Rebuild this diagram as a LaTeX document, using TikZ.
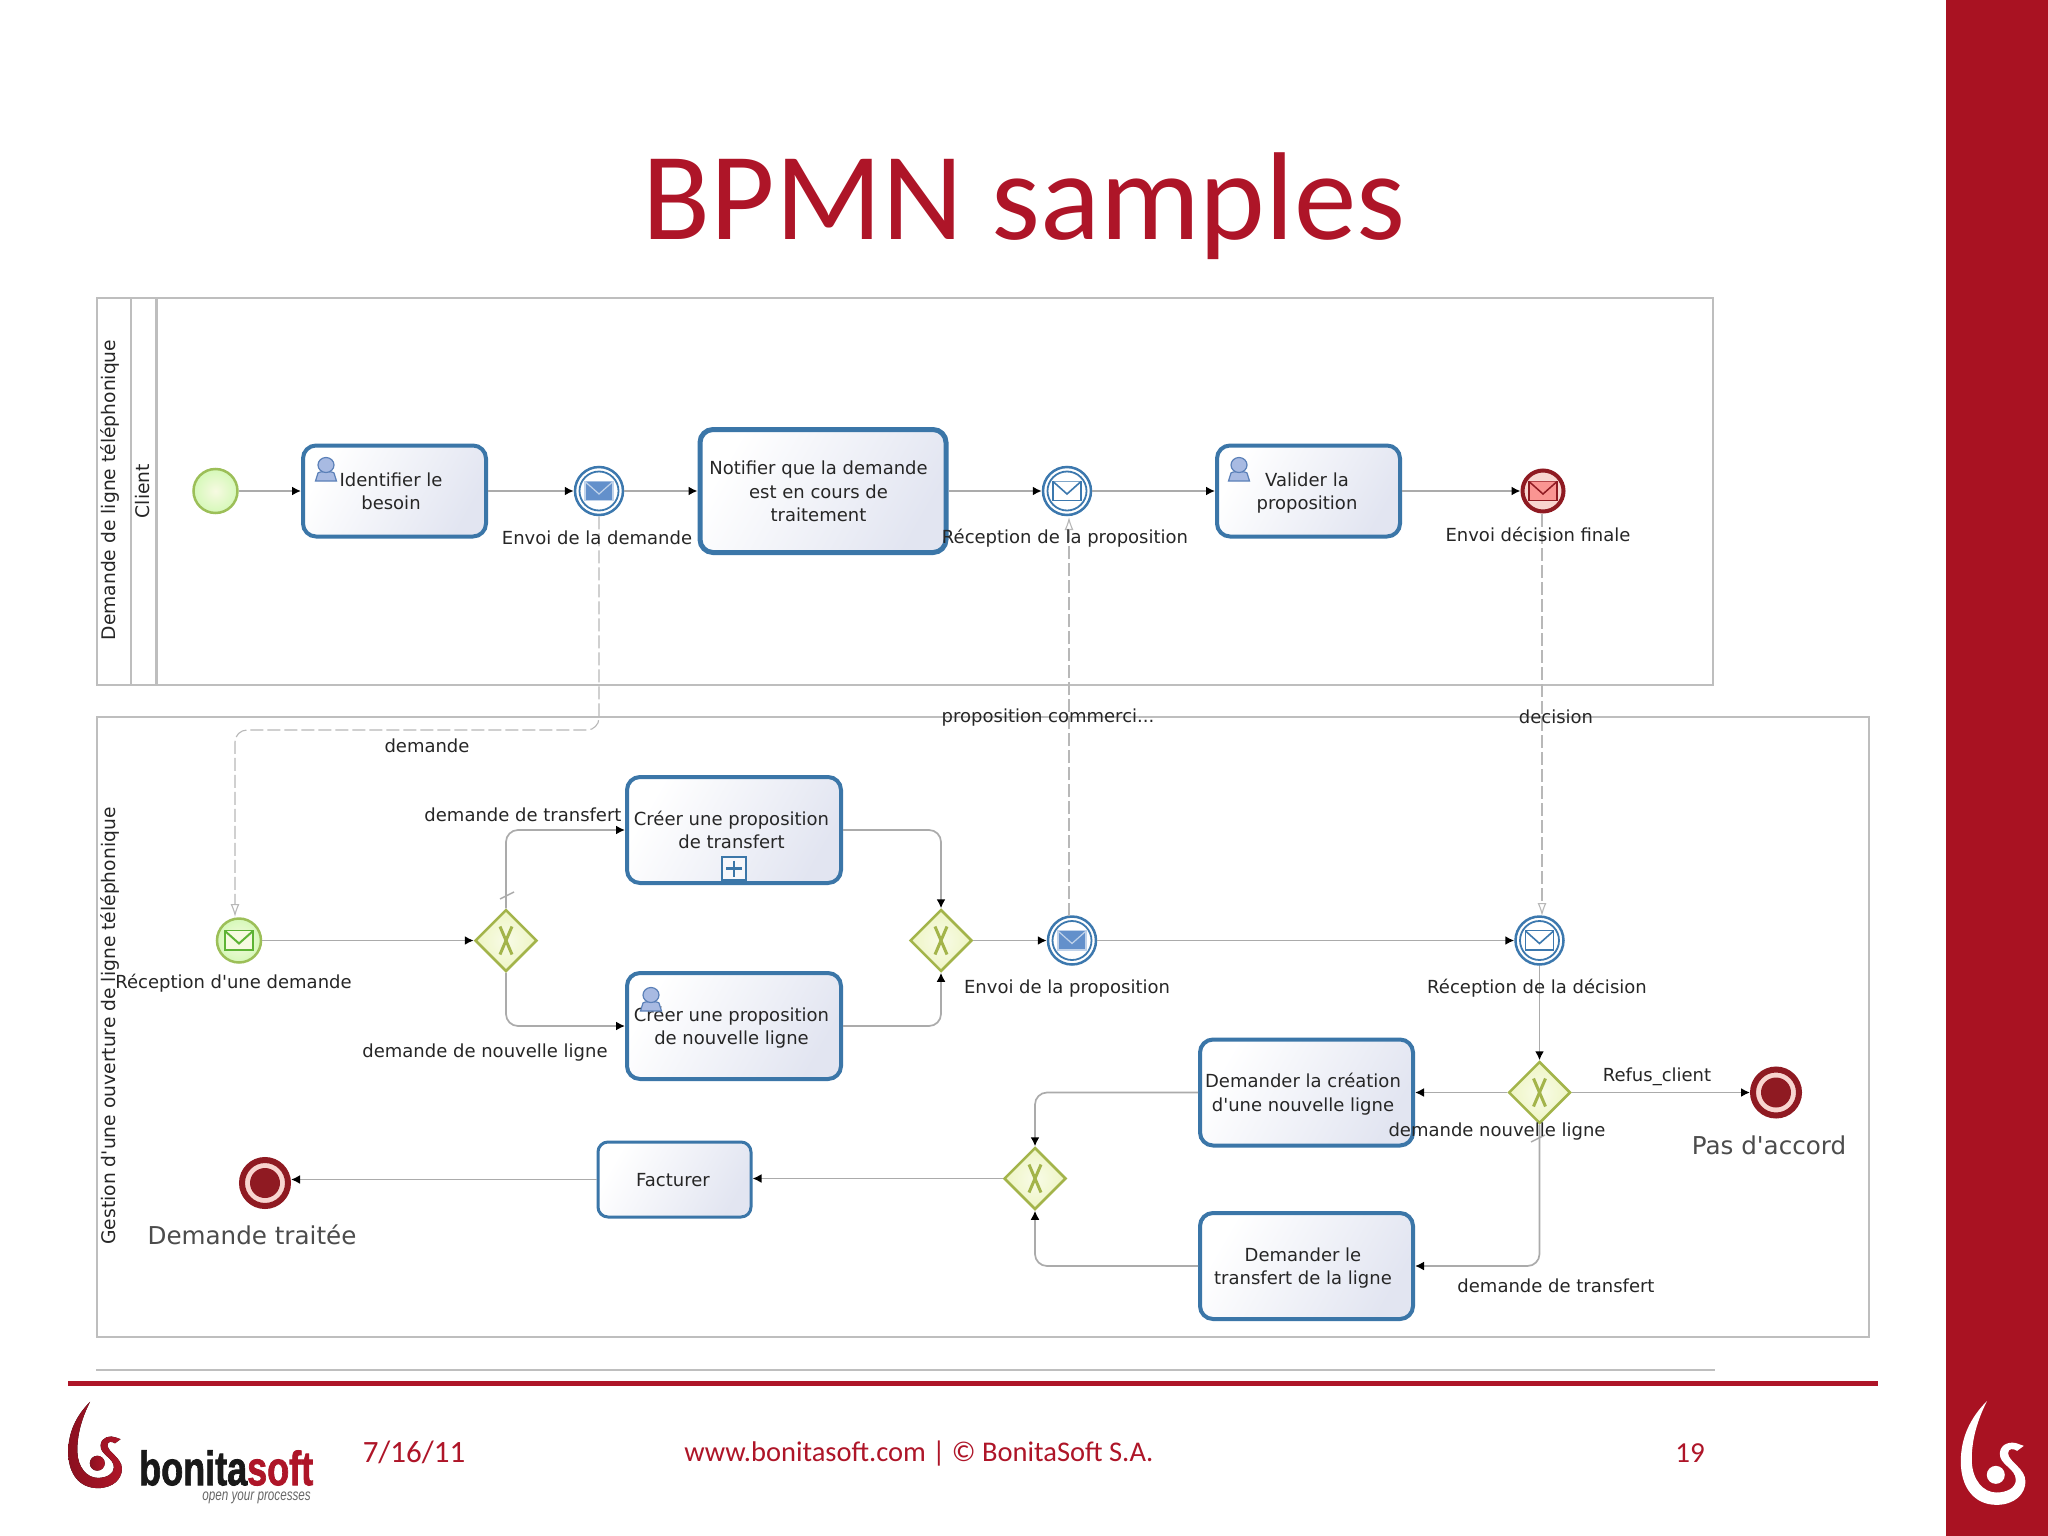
\documentclass[tikz,border=0pt]{standalone}
\usepackage{fontspec}
\setmainfont{DejaVu Sans}
\newfontfamily\slidefont{Carlito}
\newfontfamily\logofont{Liberation Sans}[BoldFeatures={FakeBold=1.8}]
\usetikzlibrary{arrows.meta,shapes.geometric}
\definecolor{slidered}{HTML}{A91222}
\definecolor{titlered}{HTML}{AE1528}
\definecolor{poolgrey}{HTML}{BEBEBE}
\definecolor{flowgrey}{HTML}{ABABAB}
\definecolor{msggrey}{HTML}{B8B8B8}
\definecolor{taskblue}{HTML}{3B76A8}
\definecolor{tasklav}{HTML}{E2E5F1}
\definecolor{gwolive}{HTML}{A3B44A}
\definecolor{gwfill}{HTML}{EEF5C4}
\definecolor{evgreen}{HTML}{9CBF58}
\definecolor{evblue}{HTML}{3C78AE}
\definecolor{envblue}{HTML}{6390CB}
\definecolor{endred}{HTML}{8F1A22}
\definecolor{endpink}{HTML}{F8D5D0}
\definecolor{userfill}{HTML}{A8BAE2}
\definecolor{userline}{HTML}{5B80B8}
% task text, pushed a little to the left and down as in the picture
\newcommand{\tasklines}[2][-7pt]{\hspace*{#1}\raisebox{0pt}[\dimexpr\height+5pt\relax][\depth]{\begin{tabular}{@{}c@{}}#2\end{tabular}}}
\tikzset{
  task/.style={draw=taskblue,line width=4pt,rounded corners=13pt,inner sep=0pt,
    left color=white,right color=tasklav,shading angle=60,
    font=\fontsize{18}{23.4}\selectfont,text=black!85},
  lbl/.style={inner sep=0pt,font=\fontsize{18}{23}\selectfont,text=black!85},
  biglbl/.style={inner sep=0pt,font=\fontsize{24.6}{28}\selectfont,text=black!70},
  poolname/.style={inner sep=0pt,rotate=90,font=\fontsize{18.7}{21}\selectfont,text=black!85},
  pool/.style={draw=poolgrey,line width=2pt},
  flow/.style={draw=flowgrey,line width=1.7pt,rounded corners=12pt,
    -{Latex[length=9pt,width=9pt,color=black]}},
  msg/.style={draw=msggrey,line width=1.1pt,rounded corners=12pt,dash pattern=on 13pt off 4pt,
    -{Latex[open,length=13pt,width=9pt,color=msggrey,fill=white]}},
  tick/.style={draw=flowgrey,line width=1.5pt},
  footer/.style={inner sep=0pt,text=titlered},
  gateway/.style={diamond,aspect=1,draw=gwolive,line width=2.5pt,inner sep=0pt,minimum size=62pt,
    inner color=white!60!gwfill,outer color=gwfill,
    path picture={
      \draw[gwolive,line width=3pt] ([shift={(-6,-14)}]path picture bounding box.center) -- ([shift={(6,14)}]path picture bounding box.center);
      \draw[gwolive,line width=3pt] ([shift={(6,-14)}]path picture bounding box.center) -- ([shift={(-6,14)}]path picture bounding box.center);
    }},
  start/.style={circle,draw=evgreen,line width=2.5pt,inner sep=0pt,minimum size=44pt,
    inner color=white!50!gwfill,outer color=gwfill!85!green!80!white},
  middle/.style={circle,draw=evblue,line width=2.5pt,inner sep=0pt,minimum size=48pt,fill=white,
    path picture={\draw[evblue,line width=1.8pt] (path picture bounding box.center) circle (19.5pt);}},
  sendend/.style={circle,draw=endred,line width=4pt,inner sep=0pt,minimum size=41pt,fill=endpink},
  termend/.style={circle,draw=endred,line width=6pt,inner sep=0pt,minimum size=46pt,fill=endpink,
    path picture={\fill[endred] (path picture bounding box.center) circle (15pt);}},
  envelope/.pic={
    \draw[pic actions] (-14,-9.5) rectangle (14,9.5);
    \draw[pic actions] (-14,-9.5) -- (0,3) -- (14,-9.5);
  },
  person/.pic={
    \draw[draw=userline,fill=userfill,line width=1.2pt] (-10.5,9) -- (-8,1) .. controls (-6,-1) and (6,-1) .. (8,1) -- (10.5,9) -- cycle;
    \draw[draw=userline,fill=userfill,line width=1.2pt] (0,-7) ellipse (8 and 7.5);
  },
  swirl/.pic={
    \fill[pic actions] (322,183) .. controls (270,235) and (243,295) .. (243,365)
      .. controls (243,445) and (285,495) .. (350,495)
      .. controls (405,495) and (437,462) .. (437,425)
      .. controls (437,385) and (385,365) .. (385,340)
      .. controls (385,325) and (400,325) .. (412,333)
      -- (432,318) -- (415,312)
      .. controls (395,303) and (362,310) .. (360,340)
      .. controls (358,375) and (408,385) .. (408,420)
      .. controls (408,445) and (380,458) .. (350,458)
      .. controls (310,458) and (278,420) .. (276,365)
      .. controls (274,300) and (295,235) .. (322,183) -- cycle;
    \fill[pic actions] (348,405) circle (27);
  },
}
\begin{document}
\begin{tikzpicture}[x=1pt,y=-1pt]
  \useasboundingbox (0,0) rectangle (2048,1536);
  \fill[white] (0,0) rectangle (2048,1536);
  % slide frame
  \fill[slidered] (1946,0) rectangle (2048,1536);
  \pic[fill=white,scale=0.3333,shift={(5640,4020)}] {swirl};
  \node[footer,font={\slidefont\fontsize{125}{135}\selectfont}] (title) at (1024,206) {BPMN samples};

  % pools
  \draw[pool] (97,298) rectangle (1713,685);
  \draw[pool] (131,298) -- (131,685);
  \draw[pool,line width=3pt] (156,298) -- (156,685);
  \draw[pool] (97,717) rectangle (1869,1337);

  % pool 1
  \node[start] (s1) at (215.5,491) {};
  \node[task,minimum width=183pt,minimum height=91pt] (t1) at (394.5,491) {\tasklines{Identifier le\\besoin}};
  \node[middle] (e1) at (599,491) {};
  \node[task,line width=5pt,minimum width=246pt,minimum height=123pt] (t2) at (823,491) {\tasklines[-9pt]{Notifier que la demande\\est en cours de\\traitement}};
  \node[middle] (e2) at (1067,491) {};
  \node[task,minimum width=183pt,minimum height=91pt] (t3) at (1308.5,491) {\tasklines[-3pt]{Valider la\\proposition}};
  \node[sendend] (e3) at (1543,491) {};

  % pool 2
  \node[start] (r1) at (239,940.5) {};
  \node[gateway] (g1) at (506,940.5) {};
  \node[task,minimum width=214pt,minimum height=106pt] (t4) at (734,830) {\tasklines[-5pt]{Créer une proposition\\de transfert}};
  \node[task,minimum width=214pt,minimum height=106pt] (t5) at (734,1026) {\tasklines[-5pt]{Créer une proposition\\de nouvelle ligne}};
  \node[gateway] (g2) at (941,940.5) {};
  \node[middle] (e4) at (1072,940.5) {};
  \node[middle] (e5) at (1539.5,940.5) {};
  \node[gateway] (g3) at (1539.5,1092.5) {};
  \node[termend] (e6) at (1776,1092.5) {};
  \node[task,minimum width=213pt,minimum height=106pt] (t6) at (1306.5,1092.5) {\tasklines{Demander la création\\d\textquotesingle une nouvelle ligne}};
  \node[task,minimum width=213pt,minimum height=106pt] (t7) at (1306.5,1266) {\tasklines{Demander le\\transfert de la ligne}};
  \node[gateway] (g4) at (1035,1178.5) {};
  \node[task,line width=3pt,rounded corners=10pt,minimum width=153pt,minimum height=75pt] (t8) at (674.5,1179.5) {\tasklines[-3pt]{Facturer}};
  \node[termend] (e7) at (265,1183) {};

  % event and task markers
  \pic[fill=envblue,draw=white!60!envblue,line width=1.2pt] at (e1) {envelope};
  \pic[fill=white,draw=evblue,line width=1.6pt] at (e2) {envelope};
  \pic[fill=endpink!70!red,draw=endred,line width=1.5pt] at (e3) {envelope};
  \pic[fill=white!50!gwfill,draw=evgreen!70!green!85!black,line width=2pt] at (r1) {envelope};
  \pic[fill=envblue,draw=white!60!envblue,line width=1.2pt] at (e4) {envelope};
  \pic[fill=white,draw=evblue,line width=1.6pt] at (e5) {envelope};
  \pic at (326,472) {person};
  \pic at (1239,472) {person};
  \pic at (651,1002) {person};
  \draw[taskblue,line width=2pt,fill=white!70!tasklav] (722,857) rectangle (746,880);
  \draw[taskblue,line width=2.5pt] (726,868.5) -- (742,868.5) (734,860.5) -- (734,876.5);

  % sequence flows
  \draw[flow] (s1) -- (t1);
  \draw[flow] (t1) -- (e1);
  \draw[flow] (e1) -- (t2);
  \draw[flow] (t2) -- (e2);
  \draw[flow] (e2) -- (t3);
  \draw[flow] (t3) -- (e3);
  \draw[flow] (r1) -- (g1.west);
  \draw[flow] (g1.north) |- (t4.west);
  \draw[flow] (g1.south) |- (t5.west);
  \draw[flow] (t4.east) -| (g2.north);
  \draw[flow] (t5.east) -| (g2.south);
  \draw[flow] (g2.east) -- (e4);
  \draw[flow] (e4) -- (e5);
  \draw[flow] (e5) -- (g3.north);
  \draw[flow] (g3.east) -- (e6);
  \draw[flow] (g3.west) -- (t6.east);
  \draw[flow] (g3.south) |- (t7.east);
  \draw[flow] (t6.west) -| (g4.north);
  \draw[flow] (t7.west) -| (g4.south);
  \draw[flow] (g4.west) -- (g4.west -| t8.east);
  \draw[flow] (t8.west) -- (t8.west -| e7.east);
  % default marks
  \draw[tick] (500,899) -- (514,892);
  \draw[tick] (1531,1142) -- (1545,1135);

  % message flows
  \coordinate (bend1) at (235,730);
  \coordinate (in1) at (235,917);
  \coordinate (in2) at (1069,517);
  \coordinate (out2) at (1069,916);
  \coordinate (out3) at (1542,514);
  \coordinate (in3) at (1542,916);
  \draw[msg] (e1.south) |- (bend1) -- (in1);
  \draw[msg] (out2) -- (in2);
  \draw[msg] (out3) -- (in3);

  % labels
  \node[poolname] (p1) at (110,490) {Demande de ligne téléphonique};
  \node[poolname] (p2) at (143,491) {Client};
  \node[poolname] (p3) at (110,1026) {Gestion d\textquotesingle une ouverture de ligne téléphonique};
  \node[lbl] (l1) at (597,538) {Envoi de la demande};
  \node[lbl] (l2) at (1065,538) {Réception de la proposition};
  \node[lbl] (l3) at (1538,534) {Envoi décision finale};
  \node[lbl] (l4) at (427,746) {demande};
  \node[lbl] (l5) at (523,815) {demande de transfert};
  \node[lbl] (l6) at (485,1053) {demande de nouvelle ligne};
  \node[lbl] (l7) at (233.5,983) {Réception d\textquotesingle une demande};
  \node[lbl] (l8) at (1048,718) {proposition commerci...};
  \node[lbl] (l9) at (1556,717) {decision};
  \node[lbl] (l10) at (1067,989) {Envoi de la proposition};
  \node[lbl] (l11) at (1537,988) {Réception de la décision};
  \node[lbl] (l12) at (1657,1077) {Refus\_client};
  \node[lbl] (l13) at (1497,1132) {demande nouvelle ligne};
  \node[lbl] (l14) at (1556,1286) {demande de transfert};
  \node[biglbl] (l15) at (1769,1145) {Pas d\textquotesingle accord};
  \node[biglbl] (l16) at (252,1235) {Demande traitée};

  % footer
  \draw[poolgrey,line width=1.5pt] (96,1370) -- (1715,1370);
  \draw[titlered,line width=5pt] (68,1383) -- (1878,1383);
  \pic[left color=titlered!80!black,right color=titlered,scale=0.2767,shift={(3.6,4883)}] {swirl};
  \node[anchor=west,inner sep=0pt,font={\logofont\bfseries\fontsize{48}{50}\selectfont}] (logo) at (139,1468)
    {\scalebox{.75}[1]{\textcolor{black!90}{bonita}\textcolor{titlered}{soft}}};
  \node[anchor=east,inner sep=0pt,text=black!60,font={\logofont\itshape\fontsize{16}{18}\selectfont}] (tagline) at (311,1498)
    {\scalebox{.73}[1]{open your processes}};
  \node[footer,font={\slidefont\fontsize{31}{34}\selectfont}] (date) at (414,1452) {7/16/11};
  \node[footer,font={\slidefont\fontsize{28.5}{32}\selectfont}] (web) at (919,1454) {www.bonitasoft.com | © BonitaSoft S.A.};
  \node[footer,font={\slidefont\fontsize{29}{32}\selectfont}] (num) at (1690,1453) {19};
\end{tikzpicture}
\end{document}
